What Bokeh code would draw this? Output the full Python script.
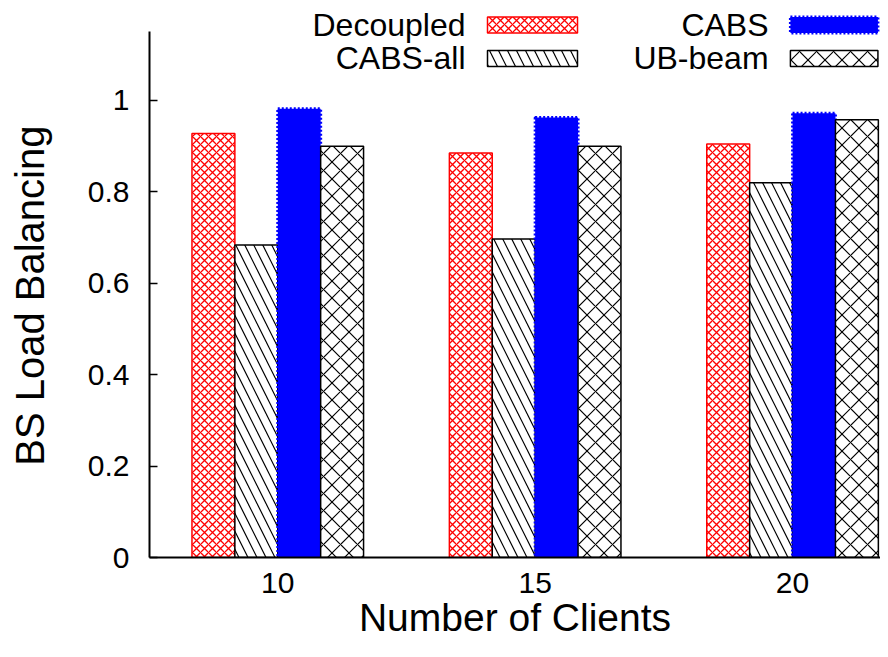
import numpy as np
from bokeh.plotting import figure
from bokeh.models import Range1d, FixedTicker, ColumnDataSource, Label
from bokeh.embed import file_html
from bokeh.resources import INLINE

# ---- data ----
clients = ["10", "15", "20"]
series_names = ["Decoupled", "CABS-all", "CABS", "UB-beam"]
decoupled = [0.928, 0.885, 0.905]
cabs_all = [0.684, 0.697, 0.820]
cabs = [0.982, 0.963, 0.972]
ub_beam = [0.900, 0.900, 0.958]
y_ticks = [0, 0.2, 0.4, 0.6, 0.8, 1.0]
y_tick_labels = ["0", "0.2", "0.4", "0.6", "0.8", "1"]
x_title = "Number of Clients"
y_title = "BS Load Balancing"

FONT = "Liberation Sans"
group_step = 6.0
offsets = [-1.5, -0.5, 0.5, 1.5]
centers = np.arange(len(clients)) * group_step

p = figure(width=880, height=649, output_backend="svg", toolbar_location=None,
           x_range=Range1d(-2.99, 14.05), y_range=Range1d(0, 1.2188),
           min_border_left=149, min_border_right=0, min_border_top=0,
           min_border_bottom=92)
p.outline_line_color = None
p.grid.grid_line_color = None
p.background_fill_color = "white"
p.border_fill_color = "white"

styles = [
    dict(fill_color="white", hatch_pattern="x", hatch_color="red", hatch_scale=8,
         hatch_weight=1.3, line_color="red", line_width=1.5),
    dict(fill_color="white", hatch_pattern="\\", hatch_color="black", hatch_scale=18,
         hatch_weight=1.2, line_color="black", line_width=1.5),
    dict(fill_color="#0000ff", line_color="#0000ff", line_width=3, line_dash="2 2"),
    dict(fill_color="white", hatch_pattern="x", hatch_color="black", hatch_scale=17,
         hatch_weight=1.2, line_color="black", line_width=1.5),
]
values = [decoupled, cabs_all, cabs, ub_beam]

for vals, off, st in zip(values, offsets, styles):
    src = ColumnDataSource(dict(x=centers + off, top=vals))
    p.vbar(x="x", top="top", bottom=0, width=1.0, source=src, **st)

# ---- legend (manual, gnuplot style) ----
leg_text_x = [4.376, 4.376, 11.44, 11.44]
leg_sw_left = [4.889, 4.889, 11.95, 11.95]
leg_sw_right = [6.987, 6.987, 13.99, 13.99]
leg_y = [1.1652, 1.0919, 1.1652, 1.0919]
for i in range(4):
    p.add_layout(Label(x=leg_text_x[i], y=leg_y[i], text=series_names[i],
                       text_align="right", text_baseline="middle",
                       text_font=FONT, text_font_size="32px", text_color="black"))
    src = ColumnDataSource(dict(left=[leg_sw_left[i]], right=[leg_sw_right[i]],
                                top=[leg_y[i] + 0.0175], bottom=[leg_y[i] - 0.0175]))
    p.quad(left="left", right="right", top="top", bottom="bottom", source=src, **styles[i])

# ---- axes ----
xa = p.xaxis[0]
xa.ticker = FixedTicker(ticks=list(centers))
xa.major_label_overrides = {float(c): lab for c, lab in zip(centers, clients)}
xa.major_tick_line_color = None
xa.minor_tick_line_color = None
xa.major_tick_in = 0
xa.major_tick_out = 0
xa.axis_line_width = 2
xa.major_label_standoff = 15
xa.major_label_text_font = FONT
xa.major_label_text_font_size = "30px"
xa.major_label_text_color = "black"
xa.axis_label = x_title
xa.axis_label_text_font = FONT
xa.axis_label_text_font_size = "39px"
xa.axis_label_text_font_style = "normal"
xa.axis_label_text_color = "black"
xa.axis_label_standoff = 0

ya = p.yaxis[0]
ya.ticker = FixedTicker(ticks=y_ticks)
ya.major_label_overrides = {float(t): lab for t, lab in zip(y_ticks, y_tick_labels)}
ya.bounds = (0, 1.15)
ya.axis_line_width = 2
ya.major_tick_in = 8
ya.major_tick_out = 0
ya.major_tick_line_width = 1.5
ya.minor_tick_line_color = None
ya.major_label_standoff = 20
ya.major_label_text_font = FONT
ya.major_label_text_font_size = "30px"
ya.major_label_text_color = "black"
# trailing no-break spaces centre the visible title on the drawn axis span (0..1.15)
ya.axis_label = y_title + "\u00a0\u00a0\u00a0"
ya.axis_label_text_font = FONT
ya.axis_label_text_font_size = "40px"
ya.axis_label_text_font_style = "normal"
ya.axis_label_text_color = "black"
ya.axis_label_standoff = 33

open("out.html", "w").write(file_html(p, INLINE))
